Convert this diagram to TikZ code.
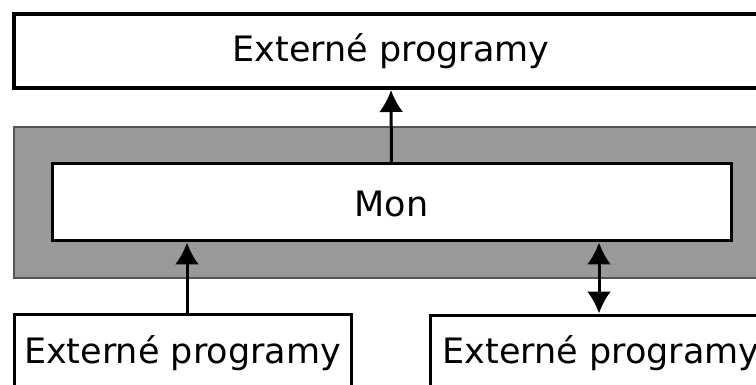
\documentclass[tikz,border=0pt]{standalone}
\usepackage{fontspec}
\setmainfont{DejaVu Sans}
\usetikzlibrary{arrows.meta}
\begin{document}
\begin{tikzpicture}[x=1pt,y=-1pt,
  box/.style={draw=black, fill=white, line width=3pt, inner sep=0pt,
    anchor=base, font=\fontsize{35}{40}\selectfont},
  shell/.style={draw=black!67, fill=black!40, line width=1.5pt, inner sep=0pt},
  tip/.style={Latex[length=22pt,width=24pt]},
  link/.style={line width=3pt, -{Latex[length=22pt,width=24pt]}},
  duplex/.style={line width=3pt, {Latex[length=22pt,width=24pt]}-{Latex[length=22pt,width=24pt]}},
]
\useasboundingbox (0,0) rectangle (756,385);
\clip (0,0) rectangle (756,385);

% grey frame around the monitor
\node[shell, minimum width=754pt, minimum height=151pt] (frame) at (391,202.5) {};

% boxes, placed by their text baselines
\node[box, line width=4pt, minimum width=754pt, text height=48pt, text depth=26pt]
  (top) at (391,62) {Externé programy};
\node[box, minimum width=679pt, text height=53pt, text depth=24pt]
  (mon) at (391.5,217) {Mon};
\node[box, minimum width=337pt, text height=48.5pt, text depth=37pt]
  (bl) at (182.5,363) {Externé programy};
\node[box, minimum width=342pt, text height=48pt, text depth=37pt]
  (br) at (601,363) {Externé programy};

% connectors
\draw[link] (mon.north) -- (top.south);
\draw[link] ([xshift=4.5pt]bl.north) -- ([xshift=4.5pt]bl.north |- mon.south);
\draw[duplex] ([xshift=-2pt]br.north |- mon.south) -- ([xshift=-2pt]br.north);
\end{tikzpicture}
\end{document}
